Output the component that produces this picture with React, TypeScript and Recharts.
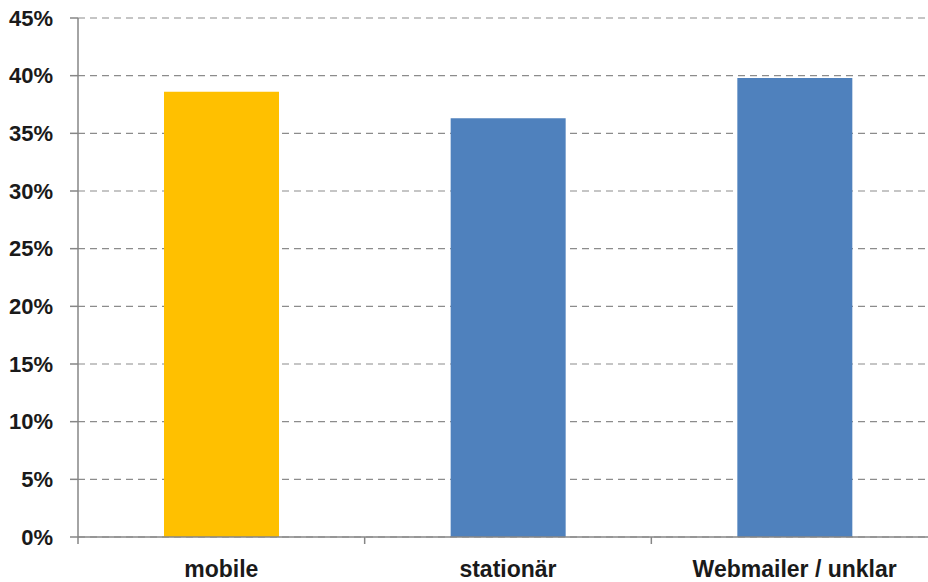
import React from 'react';
import { BarChart, Bar, XAxis, YAxis, CartesianGrid, Cell } from 'recharts';

const categories = ['mobile', 'stationär', 'Webmailer / unklar'];
const shares = [38.6, 36.3, 39.8];
const barColors = ['#FFC000', '#4F81BD', '#4F81BD'];
const yTicks = [0, 5, 10, 15, 20, 25, 30, 35, 40, 45];

const data = categories.map((name, i) => ({ name, value: shares[i] }));

const FONT = '"Liberation Sans", Arial, sans-serif';
const AXIS = '#868686';

const XTick = (props: any) => {
  const { x, y, payload } = props;
  const off = payload.offset || 0;
  return (
    <g>
      <line x1={x - off} x2={x - off} y1={y} y2={y + 7} stroke={AXIS} strokeWidth={1.5} />
      <text x={x} y={y + 40} textAnchor="middle" fontFamily={FONT} fontWeight="bold" fontSize={23} fill="#1a1a1a">
        {payload.value}
      </text>
    </g>
  );
};

export default function App() {
  return (
    <div style={{ position: 'absolute', left: 0, top: 0, width: 928, height: 582, overflow: 'hidden', background: '#fff' }}>
      <BarChart
        width={938}
        height={582}
        data={data}
        margin={{ top: 18, right: 0, bottom: 0, left: 0 }}
        barCategoryGap="30%"
      >
        <CartesianGrid vertical={false} stroke="#8c8c8c" strokeDasharray="7 5" strokeWidth={1.2} />
        <XAxis
          dataKey="name"
          height={45}
          tickLine={false}
          tickSize={0}
          tickMargin={0}
          axisLine={{ stroke: AXIS, strokeWidth: 1.5 }}
          tick={<XTick />}
          interval={0}
        />
        <YAxis
          width={78}
          domain={[0, 45]}
          ticks={yTicks}
          tickFormatter={(v: number) => `${v}%`}
          tickSize={8}
          tickMargin={17}
          tickLine={{ stroke: AXIS, strokeWidth: 1.5 }}
          axisLine={{ stroke: AXIS, strokeWidth: 1.5 }}
          tick={{ fontFamily: FONT, fontWeight: 'bold', fontSize: 22, fill: '#1a1a1a' }}
          interval={0}
        />
        <Bar dataKey="value" isAnimationActive={false}>
          {data.map((d, i) => (
            <Cell key={d.name} fill={barColors[i]} />
          ))}
        </Bar>
      </BarChart>
    </div>
  );
}
